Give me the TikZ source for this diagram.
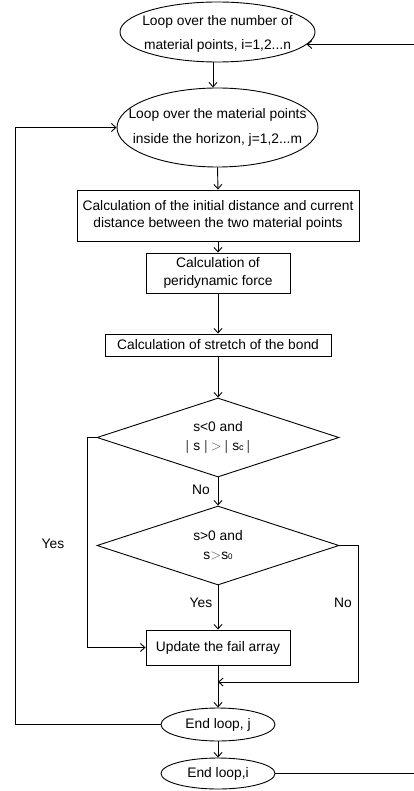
\documentclass[tikz,border=0pt]{standalone}
\usepackage{fontspec}
\setmainfont{Liberation Sans}
\usetikzlibrary{shapes.geometric,arrows.meta}
\begin{document}
\begin{tikzpicture}[x=1pt,y=-1pt,
  every node/.style={font=\fontsize{13.8}{17.4}\selectfont, inner sep=0pt, align=center},
  ell/.style={draw, ellipse, line width=0.9pt},
  box/.style={draw, rectangle, line width=0.9pt},
  dia/.style={draw, diamond, line width=0.9pt},
  arr/.style={line width=0.9pt, -{Straight Barb[length=4.5pt,width=8pt]}},
  wide/.style={font=\fontsize{13.8}{24.5}\selectfont}]
\useasboundingbox (0,0) rectangle (414,791);
% nodes
\node[ell, minimum width=195pt, minimum height=60pt] (e1) at (217.5,32) {};
\node[wide] (e1t) at (217.5,34) {Loop over the number of\\material points, i=1,2...n};
\node[ell, minimum width=201pt, minimum height=79pt] (e2) at (217.5,127.5) {};
\node[wide] (e2t) at (217.5,127.5) {Loop over the material points\\inside the horizon, j=1,2...m};
\node[box, minimum width=282pt, minimum height=51pt] (b1) at (218,215.5) {Calculation of the initial distance and current\\distance between the two material points};
\node[box, minimum width=144pt, minimum height=40pt] (b2) at (218,273) {Calculation of\\peridynamic force};
\node[box, minimum width=226pt, minimum height=22pt] (b3) at (218,345) {Calculation of stretch of the bond};
\node[dia, minimum width=242pt, minimum height=79pt] (d1) at (218,437.5) {};
\node[font=\fontsize{13.8}{19}\selectfont] (d1t) at (218,437) {s<0 and\\{\color{black!70}|}\hspace{4pt}s\hspace{4pt}{\color{black!70}|}\hspace{3pt}{\color{black!70}$>$}\hspace{3pt}{\color{black!70}|}\hspace{4pt}s{\fontsize{9}{9}\selectfont c}\hspace{3pt}{\color{black!70}|}};
\node[dia, minimum width=242pt, minimum height=79pt] (d2) at (218,545.5) {};
\node[font=\fontsize{13.8}{19}\selectfont] (d2t) at (218,545) {s>0 and\\s{\color{black!70}$>$}s{\fontsize{8}{8}\selectfont 0}};
\node[box, minimum width=144pt, minimum height=35pt] (b4) at (218,647.5) {Update the fail array};
\node[ell, minimum width=114pt, minimum height=33pt] (ej) at (218,724.5) {};
\node (ejt) at (218,724.5) {End loop, j};
\node[ell, minimum width=114pt, minimum height=31pt] (ei) at (218,773.5) {};
\node (eit) at (218,773.5) {End loop,i};
% labels
\node (no1) at (201,490) {No};
\node (yes1) at (53,544) {Yes};
\node (yes2) at (201,603) {Yes};
\node (no2) at (343,603) {No};
% helper coordinates
\coordinate (mj) at (218,682);
\coordinate (lft) at (15,0);
\coordinate (rgt) at (416,0);
% connectors
\draw[arr] ([xshift=-4.5pt]e1.south) -- ([xshift=-4.5pt]e2.north);
\draw[arr] (e2.south) -- (b1.north);
\draw[arr] (b1.south) -- (b2.north);
\draw[arr] (b2.south) -- (b3.north);
\draw[arr] (b3.south) -- (d1.north);
\draw[arr] (d1.south) -- (d2.north);
\draw[arr] (d2.south) -- (b4.north);
\draw[arr] (d1.west) -- ++(-9,0) |- (b4.west);
\draw[arr] (d2.east) -- ++(19,0) |- (mj);
\draw[arr] (b4.south) -- (ej.north);
\draw[arr] (ej.south) -- (ei.north);
\draw[arr] (ej.west) -- (ej.west -| lft) |- (e2.west);
\draw[arr] (ei.east) -- (ei.east -| rgt) |- (e1.-8);
\end{tikzpicture}
\end{document}
